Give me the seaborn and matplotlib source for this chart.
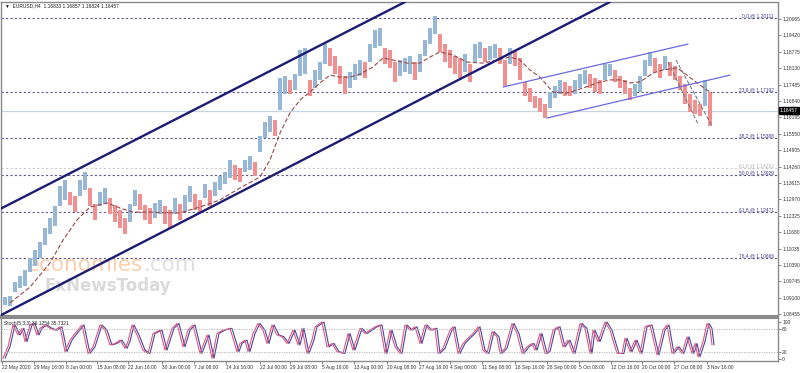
import numpy as np
import pandas as pd
import matplotlib
matplotlib.use("Agg")
import matplotlib.pyplot as plt
import seaborn as sns

sns.set_theme(style="white")
plt.rcParams["font.family"] = ["Liberation Sans", "DejaVu Sans"]

# EURUSD H4, one sample every 5 bars (high / low of that stretch)
sample_step = 5
highs = [1.0909, 1.0913, 1.0917, 1.0972, 1.0996, 1.1019, 1.1066, 1.1098, 1.1129, 1.1184,
         1.1224, 1.1271, 1.1350, 1.1373, 1.1326, 1.1310, 1.1373, 1.1405, 1.1342, 1.1279,
         1.1326, 1.1342, 1.1303, 1.1275, 1.1255, 1.1224, 1.1279, 1.1334, 1.1318, 1.1275,
         1.1263, 1.1283, 1.1295, 1.1271, 1.1255, 1.1303, 1.1279, 1.1314, 1.1350, 1.1318,
         1.1295, 1.1358, 1.1334, 1.1365, 1.1389, 1.1405, 1.1452, 1.1432, 1.1421, 1.1452,
         1.1468, 1.1444, 1.1546, 1.1601, 1.1625, 1.1609, 1.1774, 1.1782, 1.1767, 1.1790,
         1.1885, 1.1892, 1.1767, 1.1806, 1.1837, 1.1908, 1.1892, 1.1861, 1.1822, 1.1782,
         1.1798, 1.1830, 1.1845, 1.1837, 1.1908, 1.1963, 1.1971, 1.1892, 1.1885, 1.1837,
         1.1845, 1.1853, 1.1861, 1.1837, 1.1869, 1.1924, 1.1971, 1.2018, 1.1948, 1.1908,
         1.1885, 1.1861, 1.1853, 1.1869, 1.1830, 1.1908, 1.1916, 1.1892, 1.1900, 1.1908,
         1.1892, 1.1845, 1.1892, 1.1885, 1.1853, 1.1759, 1.1735, 1.1704, 1.1696, 1.1672,
         1.1719, 1.1743, 1.1767, 1.1759, 1.1743, 1.1767, 1.1790, 1.1806, 1.1790, 1.1774,
         1.1767, 1.1830, 1.1830, 1.1806, 1.1782, 1.1767, 1.1735, 1.1751, 1.1782, 1.1845,
         1.1877, 1.1853, 1.1830, 1.1861, 1.1837, 1.1822, 1.1782, 1.1751, 1.1711, 1.1688,
         1.1672, 1.1767, 1.1719]
lows = [1.0878, 1.0882, 1.0878, 1.0933, 1.0949, 1.0956, 1.1011, 1.1035, 1.1066, 1.1118,
        1.1161, 1.1192, 1.1271, 1.1295, 1.1275, 1.1247, 1.1310, 1.1334, 1.1271, 1.1216,
        1.1271, 1.1279, 1.1240, 1.1208, 1.1184, 1.1161, 1.1208, 1.1271, 1.1255, 1.1216,
        1.1200, 1.1224, 1.1240, 1.1200, 1.1184, 1.1240, 1.1216, 1.1247, 1.1287, 1.1255,
        1.1247, 1.1303, 1.1271, 1.1310, 1.1334, 1.1358, 1.1381, 1.1373, 1.1365, 1.1405,
        1.1413, 1.1389, 1.1483, 1.1538, 1.1562, 1.1546, 1.1649, 1.1711, 1.1711, 1.1727,
        1.1782, 1.1790, 1.1704, 1.1735, 1.1767, 1.1830, 1.1822, 1.1790, 1.1751, 1.1711,
        1.1735, 1.1767, 1.1782, 1.1774, 1.1837, 1.1892, 1.1900, 1.1830, 1.1814, 1.1759,
        1.1782, 1.1798, 1.1790, 1.1767, 1.1798, 1.1861, 1.1908, 1.1948, 1.1877, 1.1837,
        1.1814, 1.1790, 1.1774, 1.1798, 1.1759, 1.1837, 1.1853, 1.1837, 1.1845, 1.1853,
        1.1830, 1.1743, 1.1830, 1.1822, 1.1767, 1.1704, 1.1680, 1.1656, 1.1641, 1.1617,
        1.1656, 1.1696, 1.1711, 1.1704, 1.1704, 1.1711, 1.1735, 1.1751, 1.1735, 1.1719,
        1.1711, 1.1767, 1.1782, 1.1759, 1.1735, 1.1711, 1.1688, 1.1704, 1.1719, 1.1782,
        1.1822, 1.1798, 1.1774, 1.1806, 1.1782, 1.1767, 1.1727, 1.1672, 1.1641, 1.1633,
        1.1625, 1.1664, 1.1586]

ma_bars = [10, 30, 50, 63, 77, 90, 107, 120, 133, 150, 167, 180, 200, 220, 240, 260, 270, 280,
           290, 300, 310, 320, 330, 340, 350, 360, 373, 383, 393, 407, 420, 430, 440, 453, 467,
           483, 497, 510, 520, 530, 540, 553, 567, 583, 597, 610, 620, 630, 640, 653, 663, 677,
           687, 697, 707, 712]
ma_values = [1.0890, 1.0952, 1.1047, 1.1137, 1.1216, 1.1267, 1.1283, 1.1263, 1.1247, 1.1247,
             1.1244, 1.1244, 1.1267, 1.1295, 1.1342, 1.1385, 1.1452, 1.1558, 1.1637, 1.1688,
             1.1719, 1.1755, 1.1786, 1.1778, 1.1778, 1.1790, 1.1818, 1.1853, 1.1845, 1.1833,
             1.1833, 1.1857, 1.1877, 1.1865, 1.1837, 1.1833, 1.1845, 1.1857, 1.1845, 1.1806,
             1.1778, 1.1719, 1.1715, 1.1735, 1.1755, 1.1767, 1.1767, 1.1755, 1.1759, 1.1794,
             1.1806, 1.1814, 1.1786, 1.1755, 1.1727, 1.1715]

stoch_bars = [3, 8, 13, 18, 22, 25, 30, 33, 37, 40, 45, 50, 55, 60, 65, 70, 75, 82, 88, 93,
              100, 105, 110, 115, 120, 125, 128, 132, 137, 143, 148, 153, 160, 165, 172, 177,
              183, 188, 193, 200, 207, 212, 217, 223, 230, 237, 240, 245, 248, 253, 258, 263,
              267, 272, 277, 282, 287, 293, 298, 302, 307, 312, 315, 322, 327, 332, 337, 343,
              348, 353, 360, 365, 370, 375, 380, 385, 390, 395, 400, 405, 410, 415, 420, 425,
              430, 435, 438, 443, 450, 453, 458, 463, 468, 473, 478, 483, 487, 492, 497, 500,
              505, 512, 517, 522, 527, 532, 535, 540, 545, 548, 553, 558, 563, 568, 573, 580,
              585, 590, 593, 598, 605, 610, 617, 622, 625, 630, 635, 640, 645, 650, 657, 663,
              667, 672, 677, 682, 687, 692, 695, 698, 703, 707, 710, 712]
stoch_main = [2, 33, 92, 65, 83, 47, 92, 96, 65, 83, 92, 83, 78, 87, 20, 51, 69, 92, 15, 33,
              92, 78, 38, 42, 51, 29, 47, 92, 65, 24, 15, 69, 78, 24, 83, 96,
              33, 78, 92, 15, 65, 2, 69, 78, 83, 20, 42, 51, 20, 69, 96, 78,
              42, 92, 65, 60, 42, 78, 38, 83, 15, 51, 87, 100, 33, 42, 20, 15,
              69, 24, 83, 69, 78, 87, 92, 15, 78, 33, 15, 92, 78, 87, 42, 92,
              78, 83, 15, 29, 78, 87, 15, 42, 56, 69, 87, 24, 15, 74, 60, 15,
              29, 96, 69, 15, 33, 42, 24, 69, 15, 20, 78, 87, 33, 51, 15, 96,
              83, 15, 78, 47, 100, 78, 15, 15, 56, 20, 51, 15, 87, 92, 11, 78,
              92, 15, 33, 15, 60, 15, 42, 6, 47, 96, 83, 38]

fib_names = ["0.0", "23.6", "38.2", "50.0", "61.8", "76.4"]
fib_levels = [1.20111, 1.17192, 1.15388, 1.13929, 1.12471, 1.10666]
old_fib_name = "61.8"
old_fib_level = 1.14202

price_ticks = [1.20065, 1.19420, 1.18775, 1.18130, 1.17485, 1.16840, 1.16195, 1.15550,
               1.14905, 1.14260, 1.13615, 1.12970, 1.12325, 1.11680, 1.11035, 1.10390,
               1.09745, 1.09100, 1.08455]
last_price = 1.16457

date_labels = ["22 May 2020", "29 May 16:00", "8 Jun 00:00", "15 Jun 08:00", "22 Jun 16:00",
               "30 Jun 00:00", "7 Jul 08:00", "14 Jul 16:00", "22 Jul 00:00", "29 Jul 08:00",
               "5 Aug 16:00", "13 Aug 00:00", "20 Aug 08:00", "27 Aug 16:00", "4 Sep 00:00",
               "11 Sep 08:00", "18 Sep 16:00", "28 Sep 00:00", "5 Oct 08:00", "12 Oct 16:00",
               "20 Oct 00:00", "27 Oct 08:00", "3 Nov 16:00"]
date_bars = [2, 34, 66, 97, 128, 162, 194, 226, 260, 290, 322, 354, 387, 419, 450, 482,
             515, 547, 579, 611, 642, 674, 707]

# trendline anchors (bar, price)
big_upper = [(180, 1.1621), (360, 1.1983)]
big_lower = [(180, 1.1204), (540, 1.1932)]
small_upper = [(503, 1.1739), (688, 1.1908)]
small_lower = [(547, 1.1617), (730, 1.1786)]
fan_lines = [[(668, 1.1837), (698, 1.1594)], [(676, 1.1845), (712, 1.1586)]]

# ---
candles = pd.DataFrame({"high": highs, "low": lows})
candles["bar"] = np.arange(len(candles)) * sample_step
mid = (candles["high"] + candles["low"]) / 2
candles["up"] = mid.diff().fillna(0) >= 0

small = 3.5
fig = plt.figure(figsize=(8, 3.73), dpi=100)
ax = fig.add_axes([1 / 800, 1 - 316 / 373, 777 / 800, 314 / 373])
ax2 = fig.add_axes([1 / 800, 1 - 361 / 373, 777 / 800, 43 / 373], sharex=ax)

ax.axhline(last_price, color="#c4d4e2", lw=0.9, zorder=1)

for name, lvl in zip(fib_names, fib_levels):
    ax.axhline(lvl, color="#5a5a8c", lw=0.8, ls=(0, (2, 2)), zorder=1)
    ax.text(774, lvl, f"{name} @ {lvl:.5f}", ha="right", va="bottom",
            fontsize=small, color="#3c3c8c")
ax.axhline(old_fib_level, color="#cccccc", lw=0.8, ls=(0, (2, 2)), zorder=1)
ax.text(774, old_fib_level, f"{old_fib_name} @ {old_fib_level:.5f}", ha="right",
        va="bottom", fontsize=small, color="#b4b4b4")

# watermark sits behind the candles
wm = dict(zorder=0, family="DejaVu Sans")
econ = ax.text(27 / 800, 1 - 271 / 373, "economies", fontsize=15.5, color="#fad0ac",
               transform=fig.transFigure, **wm)
ax.annotate(".com", xy=(1, 0), xycoords=econ, ha="left", va="bottom",
            fontsize=15.5, color="#e0e0e0", **wm)
ax.text(45 / 800, 1 - 291 / 373, "FxNewsToday", fontsize=12, color="#dadada",
        fontweight="bold", transform=fig.transFigure, **wm)

colors = np.where(candles["up"], "#97b7d6", "#f09090")
ax.bar(candles["bar"], candles["high"] - candles["low"], bottom=candles["low"],
       width=4.6, color=colors, linewidth=0, zorder=2)

sns.lineplot(x=ma_bars, y=ma_values, ax=ax, color="#9a4848", lw=0.8, zorder=3)
ax.lines[-1].set_dashes((4, 2))

for (x1, y1), (x2, y2) in [big_upper, big_lower]:
    ax.axline((x1, y1), (x2, y2), color="#1c1c74", lw=1.7, zorder=4)
for seg in [small_upper, small_lower]:
    ax.plot([seg[0][0], seg[1][0]], [seg[0][1], seg[1][1]], color="#6a6ae0", lw=0.9, zorder=4)
for seg in fan_lines:
    ax.plot([seg[0][0], seg[1][0]], [seg[0][1], seg[1][1]], color="#707070", lw=0.7,
            ls=(0, (4, 2)), zorder=4)

ax.set_xlim(1, 778)
ax.set_ylim(1.08384, 1.20734)
ax.yaxis.tick_right()
ax.set_yticks(price_ticks)
ax.set_yticklabels([f"{p:.5f}" for p in price_ticks], fontsize=small, color="#333333")
ax.tick_params(axis="y", length=2, pad=1, width=0.5, color="#555555")
ax.tick_params(axis="x", bottom=False, labelbottom=False)
ax.text(780, last_price, f"{last_price:.5f}", fontsize=small, color="white", va="center",
        ha="left", bbox=dict(boxstyle="square,pad=0.2", fc="black", ec="black"), clip_on=False)

ax.text(5, 1.2060, "\u25bc  EURUSD,H4  1.16833 1.16857 1.16824 1.16457", fontsize=small,
        color="#222222", va="center")

# stochastic
sns.lineplot(x=np.array(stoch_bars) + 2, y=stoch_main, ax=ax2, color="#4848a0", lw=0.8)
sns.lineplot(x=stoch_bars, y=stoch_main, ax=ax2, color="#e0587e", lw=0.8)
for lvl in [80, 20]:
    ax2.axhline(lvl, color="#b0b0b0", lw=0.6, ls=(0, (1.5, 1.5)))
ax2.set_ylim(-5.4, 110.8)
ax2.yaxis.tick_right()
ax2.set_yticks([100, 80, 20, 0])
ax2.set_yticklabels(["100", "80", "20", "0"], fontsize=small, color="#333333")
ax2.tick_params(axis="y", length=2, pad=1, width=0.5, color="#555555")
ax2.set_xticks(date_bars)
ax2.set_xticklabels(date_labels, fontsize=small, color="#333333", ha="left")
ax2.tick_params(axis="x", length=2, pad=1, width=0.5, color="#555555", bottom=True)
ax2.text(0.004, 0.92, "Stoch(5,3,3) 36.1254 35.7321", transform=ax2.transAxes,
         fontsize=small, color="#222222", va="top")

for a in (ax, ax2):
    a.set_xlabel("")
    a.set_ylabel("")
    a.grid(False)
    for s in a.spines.values():
        s.set_color("#8a8a8a")
        s.set_linewidth(1.0)
ax.spines["bottom"].set_linewidth(1.5)
ax2.spines["top"].set_linewidth(1.5)

fig.savefig("out.png", dpi=100)
